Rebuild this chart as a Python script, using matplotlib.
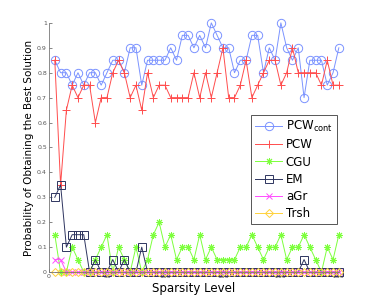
import numpy as np
import matplotlib
matplotlib.use("Agg")
import matplotlib.pyplot as plt

# sparsity levels 5, 10, ..., 250
sparsity = list(range(5, 251, 5))

pcw_cont = [0.85, 0.80, 0.80, 0.75, 0.80, 0.75, 0.80, 0.80, 0.75, 0.80,
            0.85, 0.85, 0.80, 0.90, 0.90, 0.75, 0.85, 0.85, 0.85, 0.85,
            0.90, 0.85, 0.95, 0.95, 0.90, 0.95, 0.90, 1.00, 0.95, 0.90,
            0.90, 0.80, 0.85, 0.85, 0.95, 0.95, 0.80, 0.90, 0.85, 1.00,
            0.90, 0.85, 0.90, 0.70, 0.85, 0.85, 0.85, 0.75, 0.80, 0.90]
pcw = [0.85, 0.35, 0.65, 0.75, 0.70, 0.75, 0.75, 0.60, 0.70, 0.70,
       0.80, 0.85, 0.80, 0.70, 0.75, 0.65, 0.80, 0.70, 0.75, 0.75,
       0.70, 0.70, 0.70, 0.70, 0.80, 0.70, 0.80, 0.70, 0.80, 0.90,
       0.70, 0.70, 0.75, 0.85, 0.70, 0.75, 0.80, 0.85, 0.85, 0.75,
       0.80, 0.90, 0.80, 0.80, 0.80, 0.80, 0.75, 0.85, 0.75, 0.75]
cgu = [0.15, 0.00, 0.00, 0.10, 0.05, 0.00, 0.00, 0.05, 0.10, 0.15,
       0.00, 0.10, 0.05, 0.00, 0.10, 0.00, 0.05, 0.15, 0.20, 0.10,
       0.15, 0.05, 0.10, 0.10, 0.05, 0.15, 0.05, 0.10, 0.05, 0.05,
       0.05, 0.05, 0.10, 0.10, 0.15, 0.10, 0.05, 0.10, 0.10, 0.15,
       0.05, 0.10, 0.10, 0.15, 0.10, 0.05, 0.00, 0.10, 0.05, 0.15]
em = [0.30, 0.35, 0.10, 0.15, 0.15, 0.15, 0.00, 0.05, 0.00, 0.00,
      0.05, 0.00, 0.05, 0.00, 0.00, 0.10, 0.00, 0.00, 0.00, 0.00,
      0.00, 0.00, 0.00, 0.00, 0.00, 0.00, 0.00, 0.00, 0.00, 0.00,
      0.00, 0.00, 0.00, 0.00, 0.00, 0.00, 0.00, 0.00, 0.00, 0.00,
      0.00, 0.00, 0.00, 0.05, 0.00, 0.00, 0.00, 0.00, 0.00, 0.00]
agr = [0.05, 0.05] + [0.0] * 48
trsh = [0.0] * 50

series = [
    (pcw_cont, 'PCW$_{\\rm cont}$', '#7b93ff', 'o', 6),
    (pcw, 'PCW', '#ff4d4d', '+', 6),
    (cgu, 'CGU', '#7dff3c', (8, 2, 0), 5),
    (em, 'EM', '#2e3560', 's', 5.5),
    (agr, 'aGr', '#ff4dff', 'x', 4.5),
    (trsh, 'Trsh', '#ffd23c', 'D', 4.5),
]

fig = plt.figure(figsize=(3.74, 3.05), dpi=100)
ax = fig.add_axes([0.131, 0.108, 0.775, 0.817])

for vals, name, col, mk, ms in series:
    ax.plot(sparsity, vals, color=col, marker=mk, markersize=ms, lw=0.7,
            mfc='none', mec=col, mew=0.7, label=name, clip_on=False)

ax.set_xlim(0, 250)
ax.set_ylim(0, 1)
ax.set_xticks([0, 50, 100, 150, 200, 250])
ax.set_yticks(np.arange(0, 1.01, 0.1))
ax.set_yticklabels(['0', '0.1', '0.2', '0.3', '0.4', '0.5', '0.6', '0.7', '0.8', '0.9', '1'])
ax.tick_params(direction='in', length=2, width=0.5, labelsize=4.5, colors='#555555', pad=1.5)
for s in ['top', 'right']:
    ax.spines[s].set_visible(False)
for s in ['left', 'bottom']:
    ax.spines[s].set_color('#777777')
    ax.spines[s].set_linewidth(0.6)

ax.set_xlabel('Sparsity Level', fontsize=8.5, labelpad=2)
ax.set_ylabel('Probability of Obtaining the Best Solution', fontsize=7.5, labelpad=2)

leg = ax.legend(loc='upper right', bbox_to_anchor=(0.993, 0.63), fontsize=8.5,
                handlelength=2.3, handletextpad=0.3, borderpad=0.35,
                labelspacing=0.35, borderaxespad=0, fancybox=False, framealpha=1)
leg.get_frame().set_edgecolor('#555555')
leg.get_frame().set_linewidth(0.7)

fig.savefig('out.png', dpi=100)
